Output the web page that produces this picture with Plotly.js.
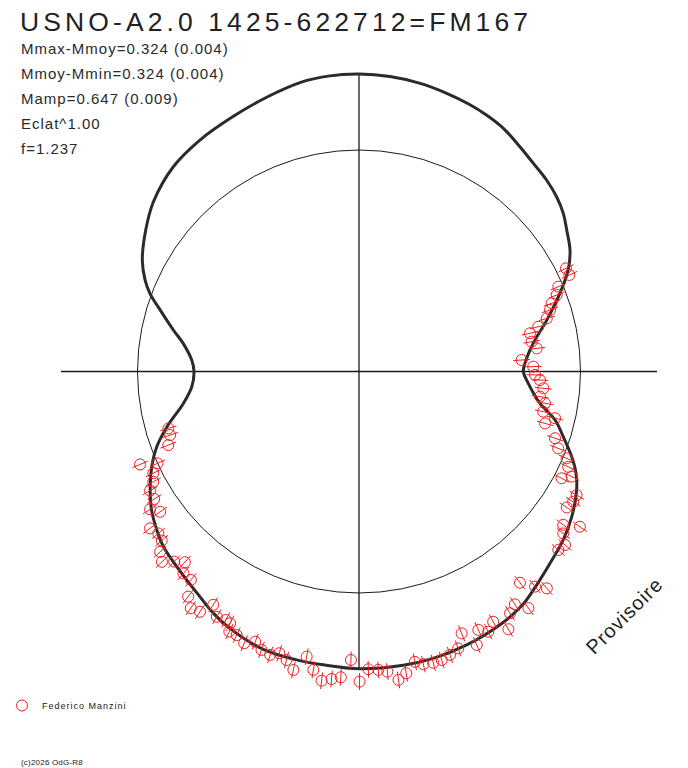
<!DOCTYPE html>
<html>
<head>
<meta charset="utf-8">
<script src="https://cdn.plot.ly/plotly-3.0.1.min.js"></script>
<style>
  html, body { margin: 0; padding: 0; background: #fff; }
  #chart { width: 688px; height: 768px; }
  .gtitle { letter-spacing: 4.1px; }
  .annotation-text { letter-spacing: 1px; }
  g.annotation[data-index="5"] .annotation-text { letter-spacing: 0.2px; }
  .legendtext { letter-spacing: 1px; }
</style>
</head>
<body>
<div id="chart"></div>
<script>
// ---- Data (phase angle in degrees, clockwise from top; radius relative to reference circle = 1) ----
const TITLE = 'USNO-A2.0 1425-622712=FM167';
const INFO_LINES = [
  'Mmax-Mmoy=0.324 (0.004)',
  'Mmoy-Mmin=0.324 (0.004)',
  'Mamp=0.647 (0.009)',
  'Eclat^1.00',
  'f=1.237'
];
const OBSERVER = 'Federico Manzini';
const FOOTER = '(c)2026 OdG-R8';
const WATERMARK = 'Provisoire';

const CURVE_THETA = [0,6,12,17.5,22.5,26.5,30.7,35.6,39.9,44.4,48.5,52.2,55.7,60.1,64.1,68.7,74.7,80.8,87.2,90,
  94,100,103.9,107.7,111.8,115.1,118.6,124.3,129.5,135.1,141.4,145.1,150.9,158.5,165.5,171.4,180,187,192.2,199,
  206.7,211.1,215.2,219.6,224.6,228.2,231.9,236.3,241.1,245.3,249.6,253.9,259.7,264.8,270,273.9,279.1,282.6,287.2,290.5,
  293.2,297.2,303.5,309.6,317.8,325.5,333.7,341.5,348.6,354,360];
const CURVE_R = [1.343,1.339,1.330,1.317,1.305,1.293,1.277,1.248,1.226,1.210,1.191,1.167,1.135,1.099,1.050,0.974,0.879,0.797,0.750,0.742,
  0.766,0.830,0.912,0.968,1.034,1.082,1.119,1.163,1.195,1.222,1.262,1.287,1.309,1.327,1.338,1.341,1.342,1.334,1.332,1.327,
  1.298,1.274,1.245,1.221,1.199,1.185,1.160,1.126,1.077,1.030,0.974,0.903,0.806,0.758,0.745,0.757,0.804,0.859,0.940,1.008,
  1.051,1.100,1.155,1.204,1.248,1.268,1.284,1.307,1.332,1.341,1.343];

const OBS_THETA = [63.5,65.35,66.95,68.85,70.5,72.15,74.2,75.97,77.4,80.2,82.6,85.96,88.4,91.1,92.7,95.2,97.9,99.7,102.3,103.4,
  105.6,108.8,111.1,112.7,114.5,116.3,117.8,119.6,121.3,123.2,125.1,126.9,128.4,130.1,131.85,139.1,140.7,142.7,144.4,146.2,
  148.0,149.9,151.8,153.6,155.2,156.7,158.6,160.3,162.2,164.0,165.7,167.6,169.1,171.1,172.7,174.6,176.3,178.2,179.9,181.6,
  183.4,185.1,186.9,188.7,190.4,192.4,194.1,195.8,197.4,199.3,201.0,202.9,204.9,206.5,207.1,208.2,210.1,212.0,213.5,215.4,
  217.2,218.9,221.0,222.4,224.2,226.0,227.8,229.4,231.1,233.1,234.8,236.6,238.1,240.3,241.8,243.7,245.5,247.0,248.9,251.4,253.4];
const OBS_R = [1.044,1.045,0.978,0.957,0.923,0.906,0.881,0.834,0.791,0.791,0.809,0.736,0.787,0.795,0.818,0.836,0.825,0.852,0.851,0.910,
  0.872,0.935,0.964,1.016,1.038,1.071,1.034,1.130,1.132,1.121,1.219,1.153,1.177,1.216,1.208,1.295,1.255,1.199,1.314,1.265,
  1.287,1.345,1.282,1.312,1.285,1.344,1.270,1.328,1.344,1.355,1.357,1.353,1.335,1.379,1.404,1.361,1.350,1.345,1.400,1.303,
  1.383,1.394,1.406,1.363,1.309,1.380,1.343,1.322,1.341,1.332,1.307,1.332,1.312,1.312,1.277,1.273,1.280,1.242,1.301,1.311,
  1.276,1.209,1.208,1.166,1.197,1.237,1.212,1.173,1.164,1.180,1.099,1.130,1.089,1.086,1.054,1.036,1.000,1.074,0.923,0.900,0.898];
const OBS_ERR = 0.038;

const REF_CIRCLE_R = 1.0;
const AXIS_R = 1.3454;
const R_MAX = 1.48;

// ---- Build traces ----
const errTheta = [], errR = [];
for (let i = 0; i < OBS_THETA.length; i++) {
  errTheta.push(OBS_THETA[i], OBS_THETA[i], null);
  errR.push(OBS_R[i] - OBS_ERR, OBS_R[i] + OBS_ERR, null);
}

const FONT = 'Liberation Sans, Arial, sans-serif';
const RED = 'rgb(236,32,32)';

const traces = [
  { type: 'scatterpolar', mode: 'lines', theta: [0, 0, 180, null, 90, 90, 270],
    r: [AXIS_R, 0, AXIS_R, null, AXIS_R, 0, AXIS_R],
    line: { color: '#1a1a1a', width: 1.3 }, showlegend: false, hoverinfo: 'skip' },
  { type: 'scatterpolar', mode: 'lines', theta: CURVE_THETA, r: CURVE_R,
    line: { color: '#2b2b2b', width: 3, shape: 'spline', smoothing: 1 },
    showlegend: false, hoverinfo: 'skip' },
  { type: 'scatterpolar', mode: 'lines', theta: errTheta, r: errR,
    line: { color: RED, width: 1 }, showlegend: false, hoverinfo: 'skip', cliponaxis: false },
  { type: 'scatterpolar', mode: 'markers', theta: OBS_THETA, r: OBS_R, name: OBSERVER,
    marker: { symbol: 'circle-open', size: 11, color: RED, line: { width: 1, color: RED } },
    cliponaxis: false, showlegend: true }
];

// polar geometry: centre (359, 371.5) px, R_MAX -> 327.8 px
const W = 688, H = 768, CX = 359, CY = 371.5, PR = 327.8;

const annotations = INFO_LINES.map((t, i) => ({
  text: t, xref: 'paper', yref: 'paper', x: 19 / W, y: 1 - [48.8, 73.8, 98.8, 123.8, 148.5][i] / H,
  xanchor: 'left', yanchor: 'middle', align: 'left', showarrow: false,
  font: { family: FONT, size: 15, color: '#2a2a2a' }
}));
annotations.push({
  text: FOOTER, xref: 'paper', yref: 'paper', x: 19 / W, y: 1 - 762.5 / H,
  xanchor: 'left', yanchor: 'middle', align: 'left', showarrow: false,
  font: { family: FONT, size: 8, color: '#222' }
});
annotations.push({
  text: WATERMARK, xref: 'paper', yref: 'paper', x: 624 / W, y: 1 - 616 / H,
  xanchor: 'center', yanchor: 'middle', textangle: -45, showarrow: false,
  font: { family: FONT, size: 20, color: '#222' }
});

const layout = {
  width: W, height: H,
  margin: { l: 0, r: 0, t: 0, b: 0, pad: 0 },
  paper_bgcolor: '#fff',
  font: { family: FONT, color: '#222' },
  title: { text: TITLE, x: 20 / W, xanchor: 'left', xref: 'container',
    y: 1 - 21.5 / H, yref: 'container', yanchor: 'middle',
    font: { family: FONT, size: 26.5, color: '#222' } },
  showlegend: true,
  legend: { x: 2 / W, xanchor: 'left', y: 1 - 705.5 / H, yanchor: 'middle',
    font: { family: FONT, size: 9, color: '#222' }, bgcolor: 'rgba(0,0,0,0)', borderwidth: 0 },
  polar: {
    domain: { x: [(CX - PR) / W, (CX + PR) / W], y: [1 - (CY + PR) / H, 1 - (CY - PR) / H] },
    bgcolor: 'rgba(0,0,0,0)',
    radialaxis: { range: [0, R_MAX], tickmode: 'array', tickvals: [REF_CIRCLE_R], showticklabels: false,
      ticks: '', showline: false, showgrid: true, gridcolor: '#1a1a1a', gridwidth: 1 },
    angularaxis: { rotation: 90, direction: 'clockwise', showgrid: false, showticklabels: false,
      ticks: '', showline: false }
  },
  annotations: annotations
};

Plotly.newPlot('chart', traces, layout, { staticPlot: true, displayModeBar: false });
</script>
</body>
</html>
